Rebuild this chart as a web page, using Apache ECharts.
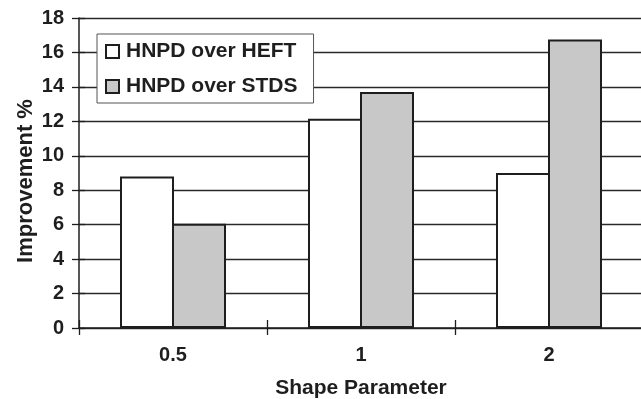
<!DOCTYPE html>
<html><head><meta charset="utf-8">
<script src="https://cdn.jsdelivr.net/npm/echarts@6/dist/echarts.min.js"></script>
<style>html,body{margin:0;padding:0;background:#fff}#c{width:641px;height:399px}</style>
</head><body><div id="c"></div>
<script>
var categories = ['0.5', '1', '2'];
var heft = [8.8, 12.15, 9.0];
var stds = [6.05, 13.7, 16.75];
var seriesNames = ['HNPD over HEFT', 'HNPD over STDS'];
var xTitle = 'Shape Parameter';
var yTitle = 'Improvement %';

var F = '"Liberation Sans", Arial, sans-serif';
var C = '#1e1e1e';
var chart = echarts.init(document.getElementById('c'), null, {renderer: 'canvas'});
chart.setOption({
  animation: false,
  backgroundColor: '#fff',
  grid: {left: 79, right: -2, top: 18, bottom: 71, containLabel: false, outerBoundsMode: 'none'},
  legend: {
    orient: 'vertical', left: 97, top: 34,
    padding: [7, 16, 6, 8], itemGap: 14,
    backgroundColor: '#fff', borderColor: '#555', borderWidth: 1,
    icon: 'rect', itemWidth: 13, itemHeight: 13,
    textStyle: {fontFamily: F, fontWeight: 'bold', fontSize: 21, color: C, padding: [0,0,0,2]},
    data: seriesNames
  },
  graphic: [{
    type: 'text', x: 26, y: 181, rotation: Math.PI / 2, z: 10,
    style: {text: yTitle, font: 'bold 22px ' + F, fill: C, align: 'center', verticalAlign: 'middle'}
  }],
  xAxis: [{
    type: 'category', data: categories,
    name: xTitle, nameLocation: 'middle', nameGap: 50,
    nameTextStyle: {fontFamily: F, fontWeight: 'bold', fontSize: 21, color: C},
    axisLine: {lineStyle: {color: C, width: 1.5}},
    axisTick: {show: true, length: 7, lineStyle: {color: C, width: 1.3}},
    axisLabel: {fontFamily: F, fontWeight: 'bold', fontSize: 20, color: C, margin: 17}
  }, {
    type: 'category', data: categories, position: 'bottom',
    axisLine: {show: false},
    axisTick: {show: true, inside: true, length: 8, lineStyle: {color: C, width: 1.3}},
    axisLabel: {show: false}, splitLine: {show: false}
  }],
  yAxis: [{
    type: 'value', min: 0, max: 18, interval: 2,
    axisLine: {show: true, lineStyle: {color: C, width: 1.5}},
    axisTick: {show: true, length: 7, lineStyle: {color: C, width: 1.3}},
    axisLabel: {fontFamily: F, fontWeight: 'bold', fontSize: 20, color: C, margin: 15},
    splitLine: {lineStyle: {color: '#2a2a2a', width: 1.3}}
  }, {
    type: 'value', min: 0, max: 18, interval: 2, position: 'left',
    axisLine: {show: false},
    axisTick: {show: true, inside: true, length: 6, lineStyle: {color: C, width: 1.3}},
    axisLabel: {show: false}, splitLine: {show: false}
  }],
  series: [
    {name: seriesNames[0], type: 'bar', data: heft, barWidth: 54, barGap: '-3.7%',
     itemStyle: {color: '#fff', borderColor: C, borderWidth: 2}},
    {name: seriesNames[1], type: 'bar', data: stds, barWidth: 54, barGap: '-3.7%',
     itemStyle: {color: '#c8c8c8', borderColor: C, borderWidth: 2}}
  ]
});
</script></body></html>
